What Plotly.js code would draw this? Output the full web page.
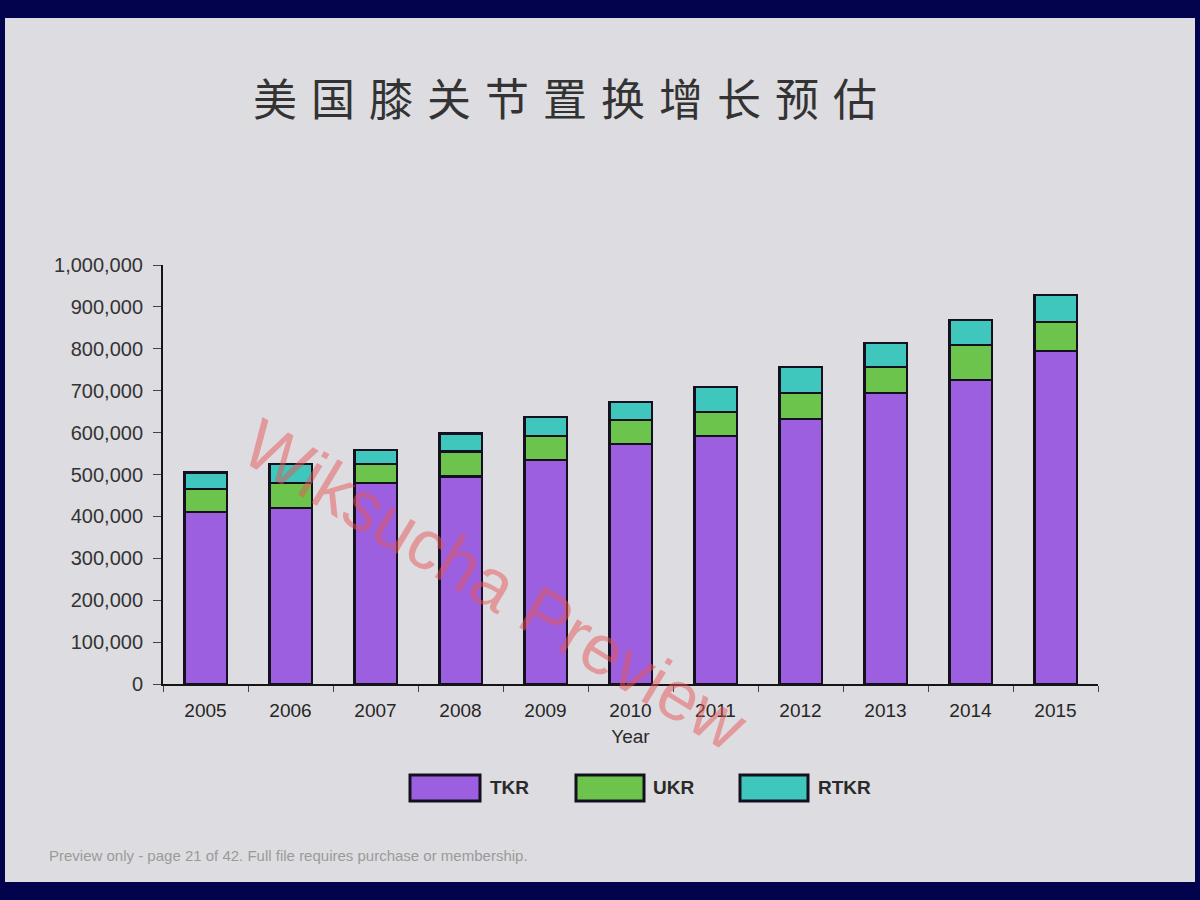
<!DOCTYPE html>
<html>
<head>
<meta charset="utf-8">
<script src="https://cdn.plot.ly/plotly-3.0.1.min.js"></script>
<style>
  html, body { margin: 0; padding: 0; background: #03034d; }
  #chart { width: 1200px; height: 900px; }
</style>
</head>
<body>
<div id="chart"></div>
<script>
// ---- data ----
const years = ['2005','2006','2007','2008','2009','2010','2011','2012','2013','2014','2015'];
const seriesNames = ['TKR', 'UKR', 'RTKR'];
const tkr  = [410000, 420000, 480000, 495000, 535000, 573000, 592000, 632000, 695000, 725000, 795000];
const ukr  = [ 55000,  60000,  45000,  60000,  57000,  57000,  57000,  62000,  62000,  84000,  69000];
const rtkr = [ 40000,  45000,  33000,  43000,  45000,  43000,  60000,  62000,  57000,  60000,  64000];
const yTickVals = [0,100000,200000,300000,400000,500000,600000,700000,800000,900000,1000000];
const yTickText = ['0','100,000','200,000','300,000','400,000','500,000','600,000','700,000','800,000','900,000','1,000,000'];
const titleText = '美国膝关节置换增长预估';
const xTitle = 'Year';
const watermark = 'Wiksucha Preview';
const footer = 'Preview only - page 21 of 42. Full file requires purchase or membership.';

// ---- styles ----
const colors = ['#9b5fe0', '#6cc44c', '#3fc6bd'];
const values = [tkr, ukr, rtkr];

const traces = values.map((v, i) => ({
  type: 'bar',
  x: years,
  y: v,
  name: seriesNames[i],
  width: 0.5,
  marker: { color: colors[i], line: { color: '#151020', width: 2.5 } },
  hoverinfo: 'x+y+name'
}));

const W = 1200, H = 900;
const M = { l: 163, r: 102, t: 265, b: 216 };
const PW = W - M.l - M.r, PH = H - M.t - M.b;
const px = x => (x - M.l) / PW;
const py = y => (H - M.b - y) / PH;

const legendPos = [
  { x0: 410, x1: 480, tx: 488 },
  { x0: 576, x1: 644, tx: 651 },
  { x0: 740, x1: 808, tx: 816 }
];

const shapes = [
  { type: 'rect', xref: 'paper', yref: 'paper', x0: px(5), x1: px(1195), y0: py(882), y1: py(18),
    fillcolor: '#dddce0', line: { width: 0 }, layer: 'below' }
];
const annotations = [];

legendPos.forEach((p, i) => {
  shapes.push({ type: 'rect', xref: 'paper', yref: 'paper',
    x0: px(p.x0), x1: px(p.x1), y0: py(801), y1: py(775),
    fillcolor: colors[i], line: { color: '#151020', width: 3 } });
  annotations.push({ xref: 'paper', yref: 'paper', x: px(p.tx), y: py(787),
    xanchor: 'left', yanchor: 'middle', showarrow: false, text: seriesNames[i],
    font: { family: 'Liberation Sans, Arial', size: 19, color: '#2a2a2a', weight: 'bold' } });
});

annotations.push({ xref: 'paper', yref: 'paper', x: px(572), y: py(97),
  xanchor: 'center', yanchor: 'middle', showarrow: false, text: titleText,
  font: { family: 'Noto Sans CJK SC', size: 44, color: '#333333', weight: 'normal' } });

annotations.push({ xref: 'paper', yref: 'paper', x: px(47), y: py(855),
  xanchor: 'left', yanchor: 'middle', showarrow: false, text: footer,
  font: { family: 'Liberation Sans, Arial', size: 15, color: '#9a9a9a' } });

annotations.push({ xref: 'paper', yref: 'paper', x: px(495), y: py(585),
  xanchor: 'center', yanchor: 'middle', showarrow: false, text: watermark, textangle: 31,
  font: { family: 'Liberation Sans, Arial', size: 70, color: 'rgba(232,85,85,0.5)' } });

const layout = {
  width: W, height: H,
  paper_bgcolor: '#03034d',
  plot_bgcolor: 'rgba(0,0,0,0)',
  margin: { l: M.l, r: M.r, t: M.t, b: M.b, pad: 0 },
  barmode: 'stack',
  showlegend: false,
  xaxis: {
    type: 'category',
    showgrid: false,
    showline: true, linecolor: '#151515', linewidth: 2,
    ticks: 'outside', tickson: 'boundaries', ticklen: 6, tickcolor: '#444', tickwidth: 1,
    ticklabelstandoff: 8,
    tickfont: { family: 'Liberation Sans, Arial', size: 19, color: '#262626' },
    title: { text: xTitle, standoff: 10, font: { family: 'Liberation Sans, Arial', size: 19, color: '#2a2a2a' } },
    fixedrange: true
  },
  yaxis: {
    range: [0, 1000000],
    showgrid: false, zeroline: false,
    showline: true, linecolor: '#151515', linewidth: 2,
    ticks: 'outside', ticklen: 8, tickcolor: '#444', tickwidth: 1,
    ticklabelstandoff: 6,
    tickvals: yTickVals, ticktext: yTickText,
    tickfont: { family: 'Liberation Sans, Arial', size: 20, color: '#333' },
    fixedrange: true
  },
  shapes: shapes,
  annotations: annotations
};

Plotly.newPlot('chart', traces, layout, { displayModeBar: false, staticPlot: true }).then(() => {
  document.querySelectorAll('.annotation-text').forEach(t => {
    if (t.textContent === titleText) t.style.letterSpacing = '14px';
  });
});
</script>
</body>
</html>
